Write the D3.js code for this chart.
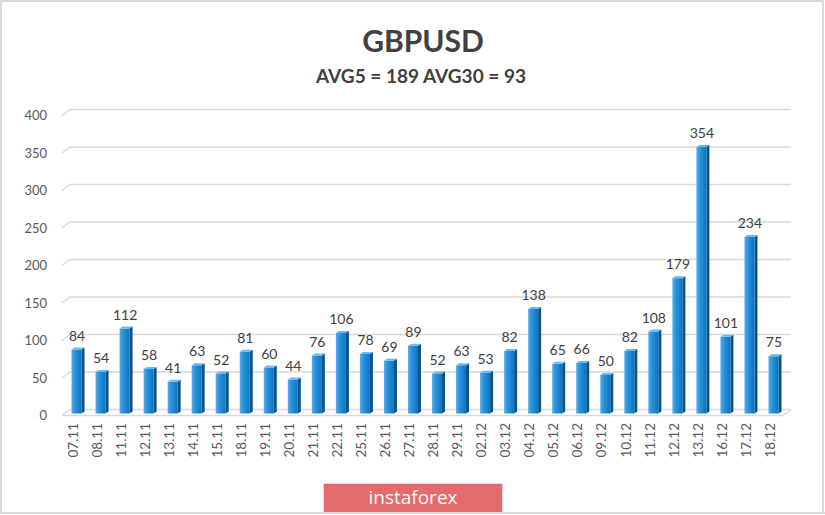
<!DOCTYPE html>
<html><head><meta charset="utf-8">
<script src="https://cdn.jsdelivr.net/npm/d3@7"></script>
<style>html,body{margin:0;padding:0;background:#fff;}svg{display:block;}</style>
</head><body>
<svg id="chart" width="825" height="515"></svg>
<script>
const categories = ["07.11","08.11","11.11","12.11","13.11","14.11","15.11","18.11","19.11","20.11","21.11","22.11","25.11","26.11","27.11","28.11","29.11","02.12","03.12","04.12","05.12","06.12","09.12","10.12","11.12","12.12","13.12","16.12","17.12","18.12"];
const values = [84,54,112,58,41,63,52,81,60,44,76,106,78,69,89,52,63,53,82,138,65,66,50,82,108,179,354,101,234,75];
const yTicks = [0,50,100,150,200,250,300,350,400];
const title = "GBPUSD";
const subtitle = "AVG5 = 189 AVG30 = 93";
const watermark = "instaforex";

const svg = d3.select("#chart");
const W = 825, H = 515;
const font = "Lato, 'Open Sans', sans-serif";

// outer border
svg.append("rect").attr("x",1).attr("y",1).attr("width",W-3).attr("height",H-3)
  .attr("fill","#fff").attr("stroke","#d9d9d9").attr("stroke-width",2);

const defs = svg.append("defs");
const g1 = defs.append("linearGradient").attr("id","barFront").attr("x1","0").attr("x2","1").attr("y1","0").attr("y2","0");
g1.append("stop").attr("offset","0").attr("stop-color","#5aaee8");
g1.append("stop").attr("offset","0.35").attr("stop-color","#2a93dc");
g1.append("stop").attr("offset","1").attr("stop-color","#0b74c0");

const x = d3.scaleBand().domain(categories).range([65, 786]).padding(0);
const y = d3.scaleLinear().domain([0,400]).range([412.5, 112.5]);
const dx = 4, dy = 3; // depth offset

// gridlines (back wall) with slanted side wall segment
const grid = svg.append("g");
yTicks.forEach(t => {
  const yb = y(t) - dy, yf = y(t) + dy;
  grid.append("path")
    .attr("d", `M62,${yf}L70,${yb}L791,${yb}`)
    .attr("fill","none").attr("stroke","#d9d9d9").attr("stroke-width",1.3);
});
// floor front edge
svg.append("path")
  .attr("d", `M62,${y(0)+dy}L783,${y(0)+dy}L791,${y(0)-dy}`)
  .attr("fill","none").attr("stroke","#d9d9d9").attr("stroke-width",1.3);

// y labels
svg.append("g").selectAll("text").data(yTicks).join("text")
  .attr("x",47).attr("y",d => y(d)+dy).attr("dy","0.35em")
  .attr("text-anchor","end").attr("font-family",font).attr("font-size",13)
  .attr("fill","#595959").text(d => d);

// bars
const bw = 10, side = 3, up = 2;
const bars = svg.append("g").selectAll("g").data(categories).join("g");
bars.each(function(c, i) {
  const g = d3.select(this);
  const cx = x(c) + x.bandwidth()/2;
  const x0 = cx - 5.5;
  const top = y(values[i]);
  const bot = y(0) + 1;
  g.append("path").attr("d",`M${x0+bw},${top}L${x0+bw+side},${top-up}L${x0+bw+side},${bot-up}L${x0+bw},${bot}Z`)
    .attr("fill","#0b5288");
  g.append("rect").attr("x",x0).attr("y",top).attr("width",bw).attr("height",bot-top)
    .attr("fill","url(#barFront)");
  g.append("path").attr("d",`M${x0},${top}L${x0+side},${top-up}L${x0+bw+side},${top-up}L${x0+bw},${top}Z`)
    .attr("fill","#6bb8ee");
  g.append("text").attr("x",cx).attr("y",top-9).attr("text-anchor","middle")
    .attr("font-family",font).attr("font-size",14).attr("fill","#404040").text(values[i]);
});

// x labels
svg.append("g").selectAll("text").data(categories).join("text")
  .attr("transform", d => `translate(${x(d)+x.bandwidth()/2-4},423) rotate(-90)`)
  .attr("dy","0.35em").attr("text-anchor","end")
  .attr("font-family",font).attr("font-size",13.5).attr("fill","#595959").text(d => d);

// titles
svg.append("text").attr("x",423).attr("y",52).attr("text-anchor","middle")
  .attr("font-family",font).attr("font-weight","bold").attr("font-size",30)
  .attr("fill","#404040").text(title);
svg.append("text").attr("x",421).attr("y",83).attr("text-anchor","middle")
  .attr("font-family",font).attr("font-weight","bold").attr("font-size",19)
  .attr("fill","#404040").text(subtitle);

// watermark
svg.append("rect").attr("x",324).attr("y",484).attr("width",178).attr("height",29)
  .attr("fill","#e46b6b").attr("stroke","#d86060").attr("stroke-width",0.5);
svg.append("text").attr("x",413).attr("y",504).attr("text-anchor","middle")
  .attr("font-family","'Open Sans', sans-serif").attr("font-size",19)
  .attr("fill","#fff").text(watermark);
// redraw bottom border over watermark
svg.append("line").attr("x1",0).attr("x2",W).attr("y1",H-2).attr("y2",H-2)
  .attr("stroke","#d9d9d9").attr("stroke-width",2);
</script>
</body></html>
